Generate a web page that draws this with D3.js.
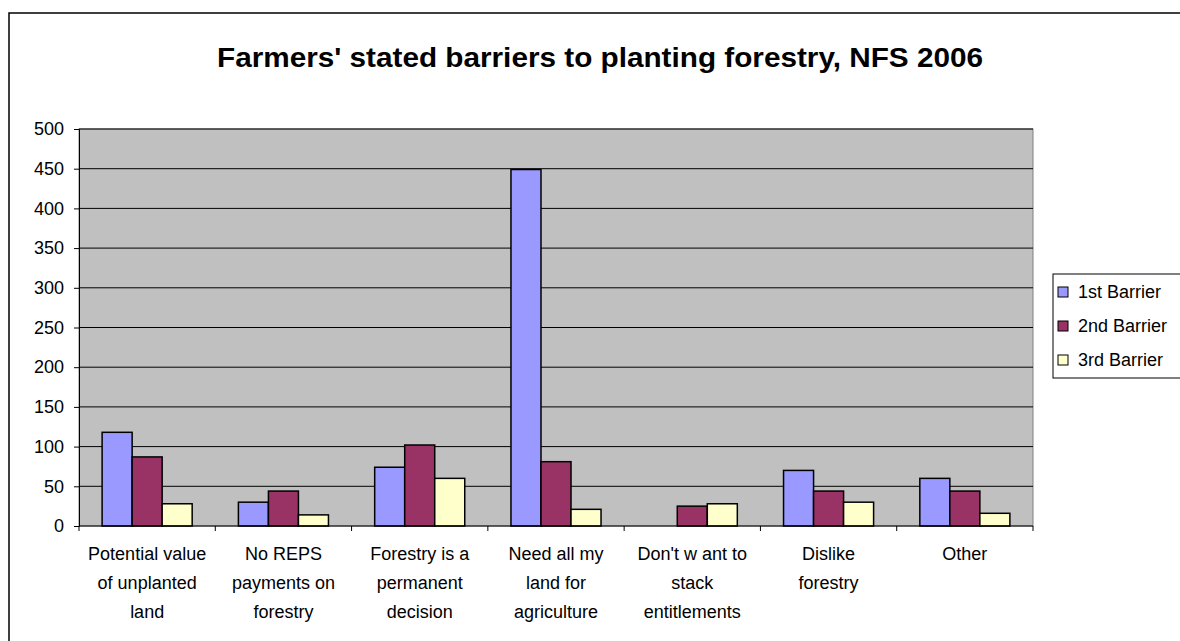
<!DOCTYPE html>
<html>
<head>
<meta charset="utf-8">
<script src="https://cdn.jsdelivr.net/npm/d3@7"></script>
<style>
  body { margin: 0; background: #fff; }
  svg text { font-family: "Liberation Sans", Arial, sans-serif; fill: #000; }
</style>
</head>
<body>
<div id="chart"></div>
<script>
const categories = [
  ['Potential value', 'of unplanted', 'land'],
  ['No REPS', 'payments on', 'forestry'],
  ['Forestry is a', 'permanent', 'decision'],
  ['Need all my', 'land for', 'agriculture'],
  ["Don't w ant to", 'stack', 'entitlements'],
  ['Dislike', 'forestry'],
  ['Other']
];
const seriesNames = ['1st Barrier', '2nd Barrier', '3rd Barrier'];
const barrier1 = [118, 30, 74, 449, 0, 70, 60];
const barrier2 = [87, 44, 102, 81, 25, 44, 44];
const barrier3 = [28, 14, 60, 21, 28, 30, 16];
const yTicks = [0, 50, 100, 150, 200, 250, 300, 350, 400, 450, 500];

const colors = { '1st Barrier': '#9999ff', '2nd Barrier': '#993366', '3rd Barrier': '#ffffcc' };

const width = 1180, height = 641;
const plot = { left: 79, top: 129, right: 1033, bottom: 526 };

const svg = d3.select('#chart').append('svg')
  .attr('width', width).attr('height', height);

// outer chart frame
svg.append('rect')
  .attr('x', 9).attr('y', 13)
  .attr('width', 1200).attr('height', 700)
  .attr('fill', '#fff').attr('stroke', '#000').attr('stroke-width', 1.5);

svg.append('text')
  .attr('x', 600).attr('y', 67)
  .attr('text-anchor', 'middle')
  .attr('textLength', 766).attr('lengthAdjust', 'spacingAndGlyphs')
  .style('font-size', '27px').style('font-weight', 'bold')
  .text("Farmers' stated barriers to planting forestry, NFS 2006");

const idx = d3.range(categories.length);
const data = idx.map(i => ({ i, values: [barrier1[i], barrier2[i], barrier3[i]] }));

const x0 = d3.scaleBand().domain(idx).range([plot.left, plot.right]).padding(0);
const x1 = d3.scaleBand().domain(seriesNames).range([0, x0.bandwidth()])
  .paddingInner(0).paddingOuter(0.77);
const y = d3.scaleLinear().domain([0, 500]).range([plot.bottom, plot.top]);

svg.append('rect')
  .attr('x', plot.left).attr('y', plot.top)
  .attr('width', plot.right - plot.left).attr('height', plot.bottom - plot.top)
  .attr('fill', '#c0c0c0').attr('stroke', '#808080');

// gridlines
svg.append('g').selectAll('line').data(yTicks.filter(d => d > 0)).enter().append('line')
  .attr('x1', plot.left).attr('x2', plot.right)
  .attr('y1', d => y(d)).attr('y2', d => y(d))
  .attr('stroke', '#000').attr('stroke-width', 1);

const yAxis = svg.append('g').attr('transform', `translate(${plot.left},0)`)
  .call(d3.axisLeft(y).tickValues(yTicks).tickSize(5).tickPadding(10));
yAxis.select('.domain').attr('stroke', '#000');
yAxis.selectAll('.tick line').attr('stroke', '#000');
yAxis.selectAll('text').style('font-size', '18px').attr('fill', '#000')
  .style('font-family', '"Liberation Sans", Arial, sans-serif');

// bars
const groups = svg.append('g').selectAll('g').data(data).enter().append('g')
  .attr('transform', d => `translate(${x0(d.i)},0)`);
groups.selectAll('rect')
  .data(d => d.values.map((v, k) => ({ key: seriesNames[k], value: v })).filter(d => d.value > 0))
  .enter().append('rect')
  .attr('x', d => x1(d.key))
  .attr('width', x1.bandwidth())
  .attr('y', d => y(d.value))
  .attr('height', d => y(0) - y(d.value))
  .attr('fill', d => colors[d.key])
  .attr('stroke', '#000').attr('stroke-width', 1.5);

// x axis
const xAxis = svg.append('g').attr('transform', `translate(0,${plot.bottom})`);
xAxis.append('line').attr('x1', plot.left).attr('x2', plot.right).attr('stroke', '#000');
xAxis.selectAll('.xt').data(d3.range(categories.length + 1)).enter().append('line')
  .attr('x1', d => plot.left + d * x0.step()).attr('x2', d => plot.left + d * x0.step())
  .attr('y1', 0).attr('y2', 5).attr('stroke', '#000');

const labels = svg.append('g').selectAll('text').data(idx).enter().append('text')
  .attr('x', d => x0(d) + x0.bandwidth() / 2)
  .attr('y', 560)
  .attr('text-anchor', 'middle')
  .style('font-size', '18px');
labels.selectAll('tspan').data(d => categories[d]).enter().append('tspan')
  .attr('x', function () { return this.parentNode.getAttribute('x'); })
  .attr('dy', (d, k) => k === 0 ? 0 : 29)
  .text(d => d);

// legend
const legend = svg.append('g').attr('transform', 'translate(1053,274)');
legend.append('rect').attr('width', 140).attr('height', 104)
  .attr('fill', '#fff').attr('stroke', '#000');
const items = legend.selectAll('.item').data(seriesNames).enter().append('g')
  .attr('transform', (d, i) => `translate(0,${18 + i * 34})`);
items.append('rect').attr('x', 5).attr('y', -5).attr('width', 10).attr('height', 10)
  .attr('fill', d => colors[d]).attr('stroke', '#000');
items.append('text').attr('x', 25).attr('dy', '0.35em')
  .style('font-size', '18px').text(d => d);
</script>
</body>
</html>
